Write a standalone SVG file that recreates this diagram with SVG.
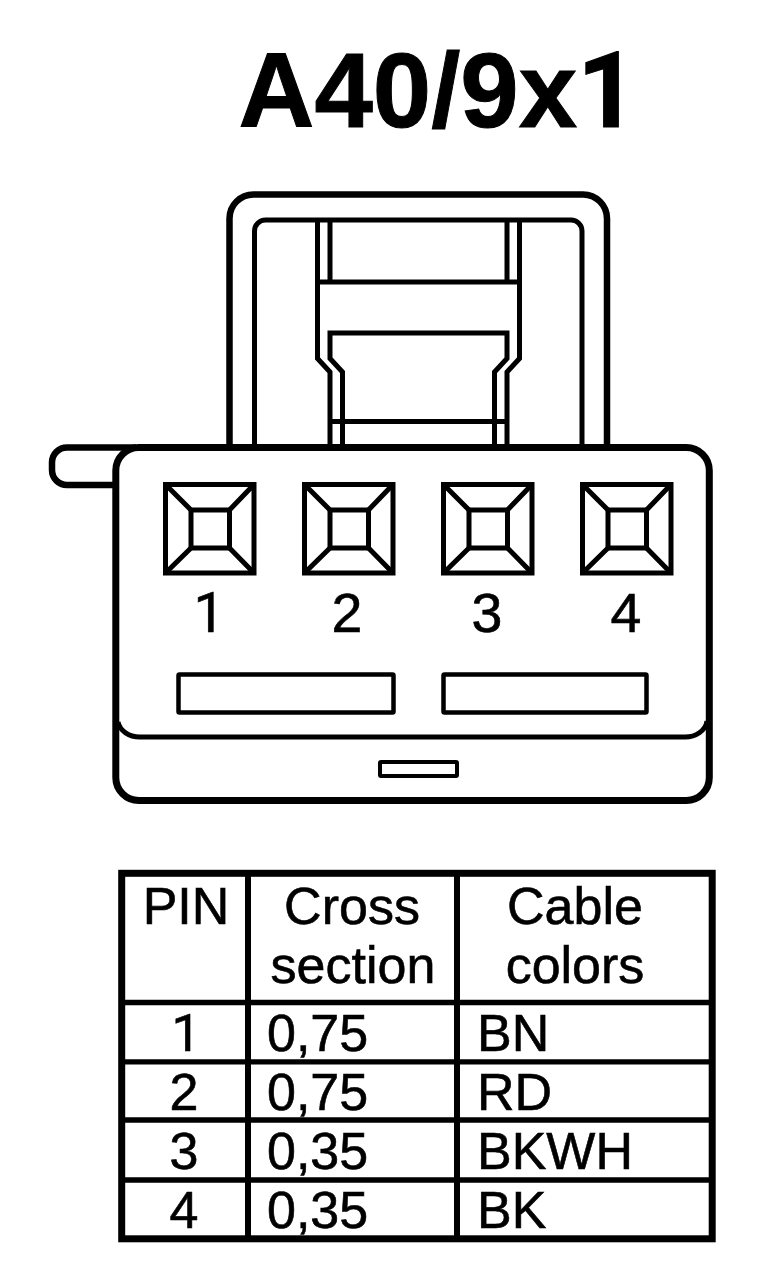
<svg xmlns="http://www.w3.org/2000/svg" width="768" height="1284" viewBox="0 0 768 1284">
<defs>
<style>
.l{fill:none;stroke:#000;stroke-width:5}
.t{font-family:"Liberation Sans",Arial,sans-serif;fill:#000;stroke:#000;stroke-width:.6}
.o{font-family:Roboto,"Liberation Sans",sans-serif}
.n{font-size:55.5px}
.c{font-size:52px}
.m{text-anchor:middle}
</style>
<g id="pinshape">
<rect class="l" x="2.500" y="2.500" width="88.500" height="88.500"/>
<rect class="l" x="28" y="28" width="38.500" height="38"/>
<path class="l" d="M2.500 2.500L28 28M91 2.500L66.500 28M2.500 91L28 66M91 91L66.500 66"/>
</g>
</defs>
<rect width="768" height="1284" fill="#fff"/>
<g id="title"><text class="t m" style="stroke-width:1" x="438" y="127" font-size="105" font-weight="700">A40/9x<tspan class="o">1</tspan></text></g>
<g id="latch">
<path class="l" style="stroke-width:6.500" d="M229.500 447V218.500A24 24 0 0 1 253.500 194.500H583A24 24 0 0 1 607 218.500V447"/>
<path class="l" d="M254.500 447V231A11 11 0 0 1 265.500 220H571A11 11 0 0 1 582 231V447"/>
<path class="l" d="M317.500 220V358.500L330 372V447M330 220V282M507 220V282M519.500 220V358.500L507 372V447M317.500 282H519.500M342.500 447V372L330 358.500V333H507V358.500L494.500 372V447M330 421.500H507"/>
</g>
<g id="tab"><path class="l" style="stroke-width:6.500" d="M116 485H67A15 15 0 0 1 52 470V462.500A15 15 0 0 1 67 447.500H136"/></g>
<g id="body">
<rect class="l" style="stroke-width:7" x="115.800" y="447.500" width="593.500" height="353" rx="23" fill="#fff"/>
<path class="l" d="M118 722A22 18 0 0 0 140 737H684A22 18 0 0 0 707 721"/>
</g>
<g id="pin1"><use href="#pinshape" x="163" y="482"/><text class="t n m o" x="209" y="632">1</text></g>
<g id="pin2"><use href="#pinshape" x="302" y="482"/><text class="t n m" x="347" y="632">2</text></g>
<g id="pin3"><use href="#pinshape" x="441" y="482"/><text class="t n m" x="487" y="632">3</text></g>
<g id="pin4"><use href="#pinshape" x="580" y="482"/><text class="t n m" x="626" y="632">4</text></g>
<g id="slots">
<rect class="l" style="stroke-width:4.500" x="178.500" y="674.500" width="215" height="38" rx="1"/>
<rect class="l" style="stroke-width:4.500" x="443.500" y="674.500" width="203" height="38" rx="1"/>
<rect class="l" style="stroke-width:4" x="380" y="762" width="77" height="14" rx="1"/>
</g>
<g id="table">
<rect class="l" style="stroke-width:7" x="121.700" y="873.300" width="590.500" height="365.500"/>
<path class="l" style="stroke-width:6" d="M248 873V1239M457 873V1239"/>
<path class="l" style="stroke-width:5.300" d="M122 1002.500H712M122 1061.800H712M122 1120H712M122 1180H712"/>
<text class="t c m" x="186" y="924">PIN</text>
<text class="t c m" x="352" y="924">Cross</text>
<text class="t c m" x="353" y="983">section</text>
<text class="t c m" x="575" y="924">Cable</text>
<text class="t c m" x="575" y="983">colors</text>
<text class="t c m o" x="186" y="1051">1</text><text class="t c" x="267" y="1051">0,75</text><text class="t c" x="477" y="1051">BN</text>
<text class="t c m" x="184" y="1110">2</text><text class="t c" x="267" y="1110">0,75</text><text class="t c" x="477" y="1110">RD</text>
<text class="t c m" x="184" y="1169">3</text><text class="t c" x="267" y="1169">0,35</text><text class="t c" x="477" y="1169">BKWH</text>
<text class="t c m" x="184" y="1228">4</text><text class="t c" x="267" y="1228">0,35</text><text class="t c" x="477" y="1228">BK</text>
</g>
</svg>
